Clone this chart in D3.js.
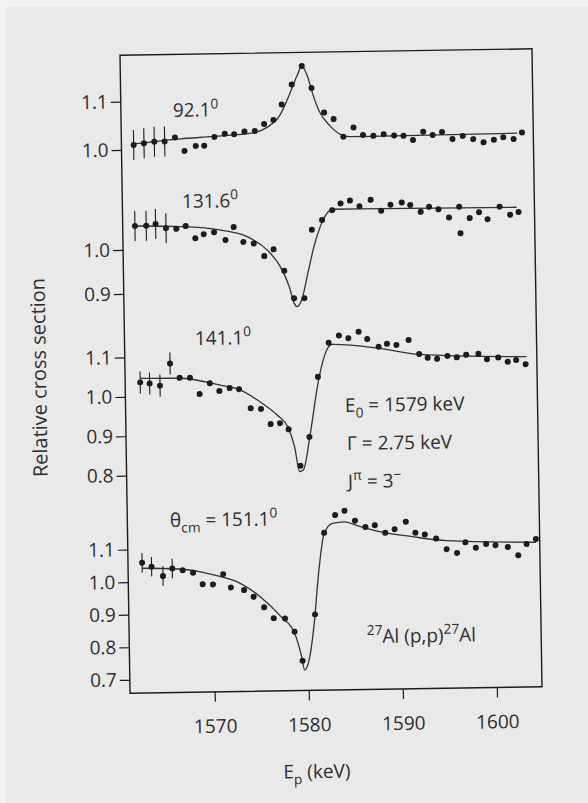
<!DOCTYPE html>
<html>
<head>
<meta charset="utf-8">
<script src="https://cdn.jsdelivr.net/npm/d3@7"></script>
<style>
  body { margin: 0; background: #e9e9e9; }
  svg { display: block; }
  text { font-family: "Open Sans", "Noto Sans", sans-serif; fill: #2e2e2e; }
</style>
</head>
<body>
<svg id="chart" width="588" height="803"></svg>
<script>
// ---------- data ----------
const xTicks = [1570, 1580, 1590, 1600];

// Panel 1 : 92.1 deg
const energy1 = [1562.3,1563.4,1564.5,1565.6,1566.7,1567.7,1568.9,1569.8,1570.9,1572.0,1573.0,1574.1,1575.2,1576.2,1577.2,1578.1,1579.2,1580.3,1581.3,1582.6,1583.6,1584.6,1585.7,1586.7,1587.8,1588.9,1590.0,1591.0,1592.0,1593.1,1594.1,1595.1,1596.2,1597.3,1598.4,1599.5,1600.6,1601.6,1602.7,1603.6];
const value1  = [1.010,1.013,1.016,1.016,1.024,0.996,1.006,1.006,1.024,1.030,1.029,1.034,1.035,1.049,1.057,1.089,1.130,1.168,1.122,1.071,1.057,1.020,1.039,1.023,1.021,1.024,1.021,1.020,1.011,1.028,1.021,1.027,1.012,1.018,1.011,1.004,1.009,1.014,1.010,1.023];
const error1  = [0.031,0.031,0.031,0.031];
const fitEnergy1 = [1562.3,1567.3,1570.8,1575.0,1576.5,1577.9,1579.0,1579.8,1580.3,1580.9,1581.4,1582.1,1583.2,1584.4,1585.3,1603.1];
const fitValue1  = [1.012,1.021,1.025,1.031,1.042,1.067,1.112,1.149,1.167,1.146,1.111,1.073,1.043,1.024,1.020,1.022];
const ticks1 = [1.0, 1.1];

// Panel 2 : 131.6 deg
const energy2 = [1562.3,1563.5,1564.5,1565.6,1566.7,1567.7,1568.7,1569.6,1570.7,1571.9,1572.8,1573.8,1574.9,1576.0,1577.0,1578.1,1579.1,1580.2,1581.1,1582.2,1583.3,1584.2,1585.2,1586.2,1587.4,1588.5,1589.5,1590.7,1591.6,1592.7,1593.6,1594.6,1595.7,1596.8,1596.9,1597.9,1598.9,1599.8,1601.1,1602.2,1603.1];
const value2  = [1.054,1.054,1.058,1.048,1.046,1.052,1.024,1.033,1.037,1.019,1.048,1.014,1.010,0.981,0.996,0.947,0.884,0.884,1.039,1.061,1.083,1.098,1.104,1.091,1.105,1.080,1.093,1.098,1.092,1.076,1.087,1.081,1.062,1.086,1.026,1.060,1.073,1.057,1.085,1.066,1.072];
const error2  = [0.034,0.034,0.034,0.034];
const fitEnergy2 = [1562.3,1567.1,1571.3,1574.2,1576.3,1577.7,1578.6,1579.1,1579.4,1579.9,1580.6,1581.3,1582.0,1582.9,1583.4,1602.9];
const fitValue2  = [1.054,1.051,1.042,1.026,0.995,0.956,0.911,0.873,0.865,0.880,0.940,1.001,1.046,1.080,1.085,1.083];
const ticks2 = [0.9, 1.0];

// Panel 3 : 141.1 deg
const energy3 = [1562.6,1563.6,1564.7,1565.8,1566.8,1567.9,1568.9,1570.0,1571.0,1572.1,1573.1,1574.3,1575.4,1576.4,1577.4,1578.3,1579.5,1580.5,1581.5,1582.7,1583.8,1584.8,1585.9,1586.8,1588.0,1588.9,1589.9,1591.2,1592.3,1593.2,1594.2,1595.3,1596.3,1597.3,1598.6,1599.5,1600.7,1601.7,1602.6,1603.6];
const value3  = [1.036,1.033,1.027,1.083,1.046,1.046,1.004,1.031,1.011,1.018,1.015,0.966,0.964,0.925,0.927,0.911,0.818,0.891,1.043,1.129,1.147,1.140,1.156,1.137,1.117,1.124,1.121,1.133,1.097,1.087,1.084,1.091,1.087,1.093,1.095,1.081,1.085,1.074,1.078,1.067];
const error3  = [0.028,0.028,0.028,0.028];
const fitEnergy3 = [1562.6,1566.8,1571.1,1573.2,1575.3,1577.1,1578.2,1578.9,1579.4,1579.8,1580.6,1581.5,1582.2,1582.8,1583.1,1588.1,1592.3,1603.7];
const fitValue3  = [1.046,1.045,1.026,1.013,0.982,0.948,0.918,0.867,0.803,0.807,0.900,1.027,1.094,1.122,1.125,1.113,1.096,1.086];
const ticks3 = [0.8, 0.9, 1.0, 1.1];

// Panel 4 : 151.1 deg
const energy4 = [1562.5,1563.5,1564.7,1565.7,1566.8,1567.9,1568.9,1570.0,1571.1,1571.9,1573.3,1574.3,1575.4,1576.4,1577.6,1578.6,1579.4,1580.8,1581.9,1583.1,1584.1,1585.2,1586.3,1587.3,1588.4,1589.4,1590.6,1591.6,1592.6,1593.8,1594.9,1596.0,1596.9,1598.0,1599.1,1600.1,1601.4,1602.5,1603.4,1604.4];
const value4  = [1.059,1.046,1.017,1.040,1.034,1.026,0.990,0.989,1.020,0.979,0.970,0.949,0.916,0.882,0.881,0.840,0.750,0.892,1.142,1.196,1.209,1.178,1.158,1.163,1.139,1.150,1.172,1.138,1.132,1.119,1.086,1.074,1.106,1.089,1.100,1.096,1.090,1.064,1.098,1.113];
const error4  = [0.030,0.030,0.030,0.030];
const fitEnergy4 = [1562.5,1566.5,1570.1,1572.9,1575.0,1577.2,1578.6,1579.3,1579.6,1580.0,1580.7,1581.2,1581.9,1582.8,1584.1,1585.3,1587.8,1591.3,1594.9,1604.4];
const fitValue4  = [1.042,1.038,1.018,0.991,0.949,0.886,0.835,0.763,0.722,0.742,0.865,1.007,1.140,1.171,1.175,1.164,1.143,1.126,1.112,1.103];
const ticks4 = [0.7, 0.8, 0.9, 1.0, 1.1];

// ---------- drawing ----------
const svg = d3.select("#chart");
svg.append("rect").attr("width", 588).attr("height", 803).attr("fill", "#f2f2f2");
svg.append("rect").attr("x", 6).attr("y", 7).attr("width", 582).attr("height", 796).attr("fill", "#e9e9e9");

// the scanned page is slightly tilted
const g = svg.append("g").attr("transform", "rotate(-0.9,331,371)");

const plotLeft = 125, plotRight = 537, plotTop = 52, plotBottom = 690;
const x = d3.scaleLinear().domain([1561, 1604.8]).range([plotLeft, plotRight]);

const panels = [
  { e: energy1, v: value1, err: error1, fe: fitEnergy1, fv: fitValue1, ticks: ticks1, dom: [1.0, 1.1], rng: [146.7, 98.4] },
  { e: energy2, v: value2, err: error2, fe: fitEnergy2, fv: fitValue2, ticks: ticks2, dom: [0.9, 1.0], rng: [290.7, 246.7] },
  { e: energy3, v: value3, err: error3, fe: fitEnergy3, fv: fitValue3, ticks: ticks3, dom: [0.8, 1.1], rng: [472.4, 354.2] },
  { e: energy4, v: value4, err: error4, fe: fitEnergy4, fv: fitValue4, ticks: ticks4, dom: [0.7, 1.1], rng: [676.6, 546.4] }
];

const ink = "#1c1c1c";
const labelSize = 19;

g.append("rect")
  .attr("x", plotLeft).attr("y", plotTop)
  .attr("width", plotRight - plotLeft).attr("height", plotBottom - plotTop)
  .attr("fill", "none").attr("stroke", ink).attr("stroke-width", 1.4);

panels.forEach(p => {
  const y = d3.scaleLinear().domain(p.dom).range(p.rng);

  const ax = g.append("g")
    .attr("transform", `translate(${plotLeft},0)`)
    .call(d3.axisLeft(y).tickValues(p.ticks).tickSize(10).tickPadding(3).tickFormat(d3.format(".1f")));
  ax.select(".domain").remove();
  ax.selectAll("line").attr("stroke", ink).attr("stroke-width", 1.2);
  ax.selectAll("text").attr("font-size", labelSize).attr("fill", "#2e2e2e")
    .style("font-family", '"Open Sans", sans-serif');

  // fit curve
  const fit = p.fe.map((d, i) => [d, p.fv[i]]);
  g.append("path")
    .attr("d", d3.line().x(d => x(d[0])).y(d => y(d[1])).curve(d3.curveMonotoneX)(fit))
    .attr("fill", "none").attr("stroke", "#333").attr("stroke-width", 1.3);

  // error bars
  const pts = p.e.map((d, i) => ({ e: d, v: p.v[i], err: p.err[i] }));
  g.selectAll(null).data(pts.filter(d => d.err != null)).enter().append("line")
    .attr("x1", d => x(d.e)).attr("x2", d => x(d.e))
    .attr("y1", d => y(d.v - d.err)).attr("y2", d => y(d.v + d.err))
    .attr("stroke", ink).attr("stroke-width", 1.1);

  // points
  g.selectAll(null).data(pts).enter().append("circle")
    .attr("cx", d => x(d.e)).attr("cy", d => y(d.v))
    .attr("r", 3).attr("fill", ink);
});

// x axis
const xa = g.append("g")
  .attr("transform", `translate(0,${plotBottom})`)
  .call(d3.axisBottom(x).tickValues(xTicks).tickSize(10).tickFormat(d3.format("d")));
xa.select(".domain").remove();
xa.selectAll("line").attr("stroke", ink).attr("stroke-width", 1.2);
xa.selectAll("text").attr("y", 41).attr("dy", null).attr("font-size", labelSize).attr("fill", "#2e2e2e")
  .style("font-family", '"Open Sans", sans-serif');

// rich text helper: segments [text, kind] with kind = "", "sub", "sup"
function rich(parent, px, py, segs, size, anchor) {
  const t = parent.append("text").attr("x", px).attr("y", py).attr("font-size", size)
    .attr("text-anchor", anchor || "start");
  let shift = 0;
  segs.forEach(([s, kind]) => {
    const ts = t.append("tspan").text(s);
    let target = 0, fs = size;
    if (kind === "sup") { target = -0.42 * size; fs = size * 0.72; }
    if (kind === "sub") { target = 0.3 * size; fs = size * 0.72; }
    ts.attr("font-size", fs).attr("dy", target - shift);
    shift = target;
  });
  return t;
}

rich(g, 177, 114.5, [["92.1", ""], ["0", "sup"]], labelSize);
rich(g, 184.6, 205.7, [["131.6", ""], ["0", "sup"]], labelSize);
rich(g, 195.4, 342.9, [["141.1", ""], ["0", "sup"]], labelSize);
rich(g, 167.6, 524.5, [["θ", ""], ["cm", "sub"], [" = 151.1", ""], ["0", "sup"]], labelSize);
rich(g, 344.4, 412.2, [["E", ""], ["0", "sub"], [" = 1579 keV", ""]], labelSize);
rich(g, 345.8, 450.3, [["Γ = 2.75 keV", ""]], labelSize);
rich(g, 346.2, 488.3, [["J", ""], ["π", "sup"], [" = 3", ""], ["−", "sup"]], labelSize);
rich(g, 362.7, 643.6, [["27", "sup"], ["Al (p,p)", ""], ["27", "sup"], ["Al", ""]], labelSize);

// axis titles
rich(g, 310.6, 777.8, [["E", ""], ["p", "sub"], [" (keV)", ""]], labelSize, "middle");
g.append("text")
  .attr("transform", "translate(46,373) rotate(-90)")
  .attr("text-anchor", "middle").attr("font-size", 20)
  .text("Relative cross section");
</script>
</body>
</html>
